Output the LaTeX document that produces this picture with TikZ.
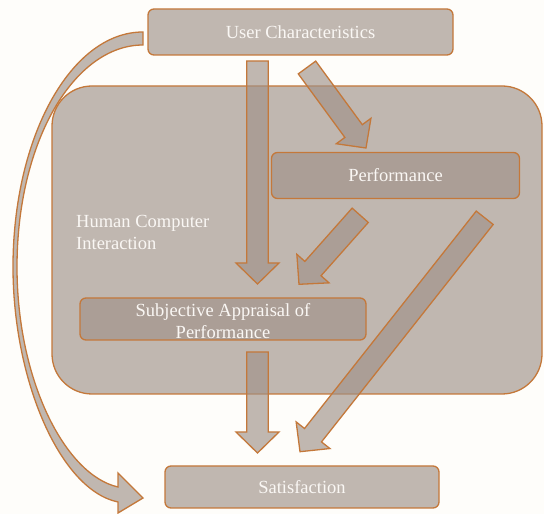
\documentclass[tikz,border=0pt]{standalone}
\usepackage{fontspec}
\setmainfont{Liberation Serif}
\usetikzlibrary{calc}
\definecolor{shade}{RGB}{160,146,137}
\definecolor{edge}{RGB}{196,120,58}
\definecolor{bg}{RGB}{254,253,250}
\definecolor{txt}{RGB}{250,247,244}
\tikzset{
  shapefill/.style={fill=shade, fill opacity=0.65, draw=edge, draw opacity=1, line width=1.3pt, text opacity=1},
  boxnode/.style={shapefill, rounded corners=6pt, text=txt, font=\fontsize{18.5}{22.5}\selectfont, inner sep=0pt, align=center},
  labeltext/.style={text=txt, font=\fontsize{18.5}{22}\selectfont, inner sep=0pt, align=left},
}
\newcommand\blockarrow[2]{%
  \coordinate (hb) at ($(#2)!21pt!(#1)$);
  \draw[shapefill, line join=miter]
    ($(#1)!10.8pt!90:(#2)$) -- ($(hb)!10.8pt!90:(#2)$) -- ($(hb)!21.5pt!90:(#2)$) -- (#2)
    -- ($(hb)!21.5pt!-90:(#2)$) -- ($(hb)!10.8pt!-90:(#2)$) -- ($(#1)!10.8pt!-90:(#2)$) -- cycle;}
\begin{document}
\begin{tikzpicture}[x=1pt,y=1pt]
\fill[bg] (0,0) rectangle (544,514);
\useasboundingbox (0,0) rectangle (544,514);

% big HCI container
\node[shapefill, rounded corners=40pt, minimum width=490pt, minimum height=308pt] (hci) at (297,274) {};
\node[labeltext, anchor=north west] (hcitext) at (76,299) {Human Computer\\Interaction};

% boxes
\node[boxnode, minimum width=305pt, minimum height=46pt] (uc) at (300.5,482) {User Characteristics};
\node[boxnode, minimum width=248pt, minimum height=46pt] (perf) at (395.5,338.5) {Performance};
\node[boxnode, minimum width=286pt, minimum height=42pt] (subj) at (223,195) {};
\node[text=txt, font=\fontsize{18.5}{22.5}\selectfont, align=center, inner sep=0pt] (subjtext) at (223,193) {Subjective Appraisal of\\Performance};
\node[boxnode, minimum width=274pt, minimum height=42pt] (sat) at (302,27) {Satisfaction};

% arrow end points
\coordinate (a1s) at (257.5,453);  \coordinate (a1t) at (257.5,230);
\coordinate (a2s) at (307,446.5);  \coordinate (a2t) at (366,366);
\coordinate (a3s) at (360.2,298.7);\coordinate (a3t) at (299,229.7);
\coordinate (a4s) at (484.7,296.2);\coordinate (a4t) at (300,62.3);
\coordinate (a5s) at (257.5,162);  \coordinate (a5t) at (257.5,61);

\blockarrow{a1s}{a1t}
\blockarrow{a2s}{a2t}
\blockarrow{a3s}{a3t}
\blockarrow{a4s}{a4t}
\blockarrow{a5s}{a5t}

% curved arrow from User Characteristics to Satisfaction
\coordinate (cs1) at (143,482);
\coordinate (cs2) at (143,469);
\coordinate (ctip) at (143,16);
\draw[shapefill, line join=miter]
  (cs1) .. controls (71,482) and (13,377) .. (13,247)
        .. controls (13,134) and (60,24) .. (118,12)
  -- (118,1) -- (ctip) -- (118,41) -- (118,27)
        .. controls (65,39) and (17,134) .. (17,247)
        .. controls (17,374) and (75,469) .. (cs2) -- cycle;
\end{tikzpicture}
\end{document}
